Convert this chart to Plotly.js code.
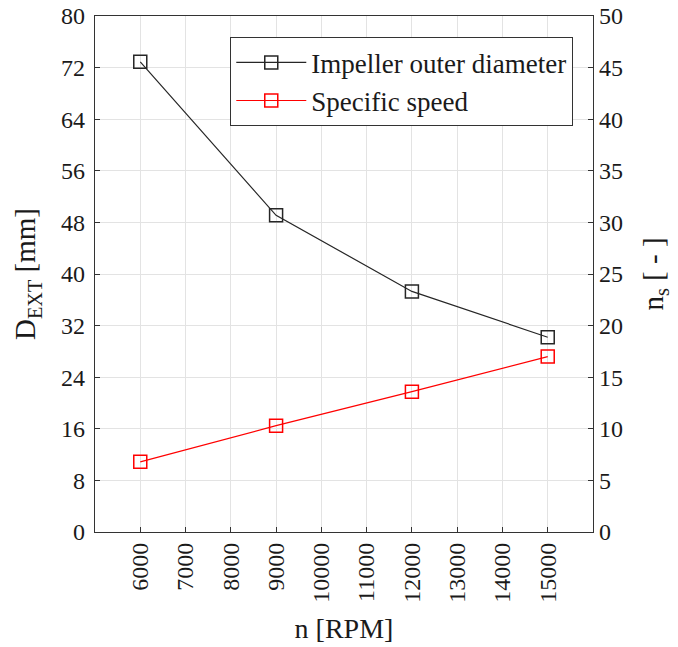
<!DOCTYPE html>
<html>
<head>
<meta charset="utf-8">
<script src="https://cdn.plot.ly/plotly-3.0.1.min.js"></script>
<style>html,body{margin:0;padding:0;background:#fff;}#chart{width:678px;height:647px;}</style>
</head>
<body>
<div id="chart"></div>
<script>
const speedRPM = [6000, 9000, 12000, 15000];
const impellerDiameter = [72.9, 49.1, 37.3, 30.2];
const specificSpeed = [6.8, 10.3, 13.6, 17.0];
const xTicks = [6000, 7000, 8000, 9000, 10000, 11000, 12000, 13000, 14000, 15000];
const yLeftTicks = [0, 8, 16, 24, 32, 40, 48, 56, 64, 72, 80];
const yRightTicks = [0, 5, 10, 15, 20, 25, 30, 35, 40, 45, 50];

const font = {family: '"Liberation Serif", "Times New Roman", serif', color: '#1a1a1a'};

const traces = [
  {
    x: speedRPM, y: impellerDiameter, name: 'Impeller outer diameter',
    type: 'scatter', mode: 'lines+markers', yaxis: 'y',
    line: {color: '#262626', width: 1.2},
    marker: {symbol: 'square-open', size: 13, color: '#262626', line: {width: 1.5}}
  },
  {
    x: speedRPM, y: specificSpeed, name: 'Specific speed',
    type: 'scatter', mode: 'lines+markers', yaxis: 'y2',
    line: {color: '#ff0000', width: 1.2},
    marker: {symbol: 'square-open', size: 13, color: '#ff0000', line: {width: 1.5}}
  }
];

const layout = {
  width: 678, height: 647,
  margin: {l: 95, r: 85, t: 16, b: 115},
  paper_bgcolor: '#fff', plot_bgcolor: '#fff',
  font: Object.assign({size: 24}, font),
  showlegend: true,
  legend: {
    x: 0.96, y: 0.959, xanchor: 'right', yanchor: 'top',
    bgcolor: '#fff', bordercolor: '#333', borderwidth: 1.2,
    font: Object.assign({size: 27}, font),
    itemwidth: 70, tracegroupgap: 0
  },
  xaxis: {
    range: [5000, 16000], tickvals: xTicks, ticktext: xTicks.map(String),
    tickangle: -90, ticks: 'inside', ticklen: 5, tickcolor: '#333',
    showgrid: true, gridcolor: '#e3e3e3', gridwidth: 1,
    showline: true, linecolor: '#333', linewidth: 1.2, mirror: true,
    zeroline: false, tickfont: Object.assign({size: 24}, font),
    title: {text: 'n [RPM]', font: Object.assign({size: 28}, font), standoff: 16}
  },
  yaxis: {
    range: [0, 80], tickvals: yLeftTicks, ticks: 'inside', ticklen: 5, tickcolor: '#333',
    showgrid: true, gridcolor: '#e3e3e3', gridwidth: 1,
    showline: true, linecolor: '#333', linewidth: 1.2, mirror: false,
    zeroline: false, tickfont: Object.assign({size: 24}, font), ticklabelstandoff: 4,
    title: {text: 'D<sub>EXT</sub> [mm]', font: Object.assign({size: 29}, font), standoff: 16}
  },
  yaxis2: {
    range: [0, 50], tickvals: yRightTicks, ticks: 'inside', ticklen: 5, tickcolor: '#333',
    overlaying: 'y', side: 'right', showgrid: false,
    showline: true, linecolor: '#333', linewidth: 1.2,
    zeroline: false, tickfont: Object.assign({size: 24}, font),
    title: {text: 'n<sub>s</sub> [ - ]', font: Object.assign({size: 29}, font), standoff: 20}
  }
};

Plotly.newPlot('chart', traces, layout, {displayModeBar: false, staticPlot: true});
</script>
</body>
</html>
